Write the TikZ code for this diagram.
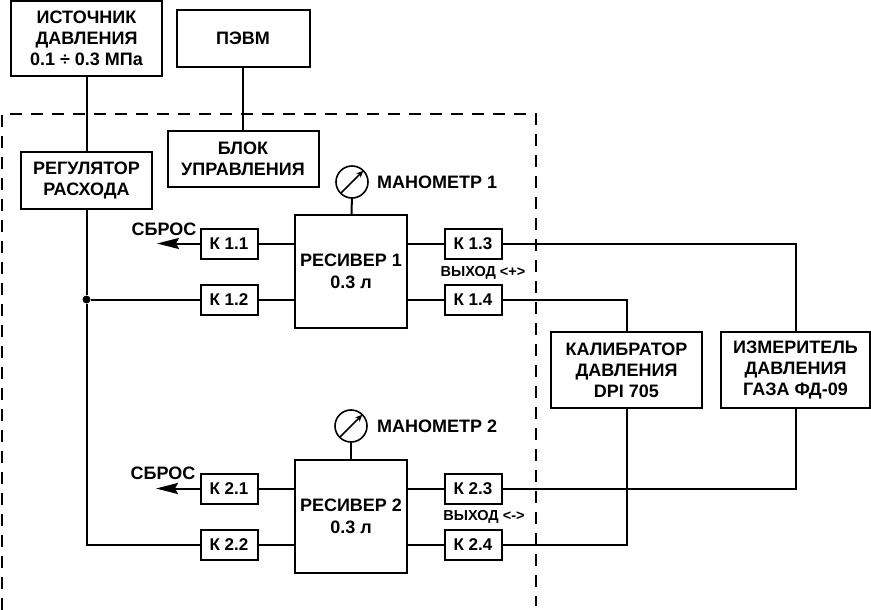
\documentclass[tikz,border=0pt]{standalone}
\usepackage{fontspec}
\setmainfont{Liberation Sans}
\usetikzlibrary{arrows.meta,positioning}
\tikzset{
    %Define standard arrow tip
    >={Stealth[length=7pt,width=6pt]},
    %Define style for boxes
    blok/.style={
           rectangle,
           draw=black,
           line width=2pt,
           inner sep=0pt,
           outer sep=0pt,
           align=center,
           font=\fontsize{18}{21}\selectfont\bfseries},
    klapan/.style={
           blok,
           font=\fontsize{17}{21}\selectfont\bfseries,
           minimum width=57pt,
           minimum height=30pt},
    % Define style for gauges
    manometr/.style={
           circle,
           draw=black,
           line width=1.6pt,
           minimum size=32pt,
           inner sep=0pt,
           outer sep=0pt},
    % Define style for free labels
    metka/.style={
           inner sep=0pt,
           font=\fontsize{18}{21}\selectfont\bfseries},
    melkaya/.style={
           inner sep=0pt,
           font=\fontsize{14.5}{17}\selectfont\bfseries},
    % Define line styles
    pil/.style={line width=2pt},
    sbros/.style={line width=2pt,-{Stealth[length=22pt,width=11pt,inset=3pt]}},
    granica/.style={line width=1.7pt,dash pattern=on 12pt off 9pt}
}
\begin{document}
\begin{tikzpicture}[x=1pt,y=-1pt,node distance=37.5pt]
  \useasboundingbox (0,0) rectangle (871,610);
  % outer boundary
  \draw[granica] (2,610) -- (2,114) -- (536,114) -- (536,606);
  % top boxes
  \node[blok,minimum width=151pt,minimum height=75pt] (istochnik) at (86.5,38.5) {ИСТОЧНИК\\ДАВЛЕНИЯ\\0.1 ÷ 0.3 МПа};
  \node[blok,minimum width=133pt,minimum height=57pt] (pevm) at (243,38.5) {ПЭВМ};
  \node[blok,minimum width=151pt,minimum height=56pt] (blok) at (243,159) {БЛОК\\УПРАВЛЕНИЯ};
  \node[blok,minimum width=131pt,minimum height=57pt] (regulator) at (86.5,180.5) {РЕГУЛЯТОР\\РАСХОДА};
  % receivers with valves
  \node[blok,minimum width=112pt,minimum height=113pt] (res1) at (351,271.5) {РЕСИВЕР 1\\[1pt]0.3 л};
  \node[klapan,left=of res1.west,yshift=28pt] (k11) {К 1.1};
  \node[klapan,left=of res1.west,yshift=-28pt] (k12) {К 1.2};
  \node[klapan,right=of res1.east,yshift=28pt] (k13) {К 1.3};
  \node[klapan,right=of res1.east,yshift=-28pt] (k14) {К 1.4};
  \node[blok,minimum width=112pt,minimum height=113pt] (res2) at (351,516.5) {РЕСИВЕР 2\\[1pt]0.3 л};
  \node[klapan,left=of res2.west,yshift=28pt] (k21) {К 2.1};
  \node[klapan,left=of res2.west,yshift=-28pt] (k22) {К 2.2};
  \node[klapan,right=of res2.east,yshift=28pt] (k23) {К 2.3};
  \node[klapan,right=of res2.east,yshift=-28pt] (k24) {К 2.4};
  % gauges
  \node[manometr] (man1) at (352,182) {};
  \node[manometr] (man2) at (351,426) {};
  \node[metka,right=9pt of man1] {МАНОМЕТР 1};
  \node[metka,right=10pt of man2] {МАНОМЕТР 2};
  % right boxes
  \node[blok,minimum width=151pt,minimum height=76pt] (kalibrator) at (626.5,370) {КАЛИБРАТОР\\ДАВЛЕНИЯ\\DPI 705};
  \node[blok,minimum width=149pt,minimum height=76pt] (izmeritel) at (795.5,370) {ИЗМЕРИТЕЛЬ\\ДАВЛЕНИЯ\\ГАЗА ФД-09};
  % labels
  \node[melkaya] at (483,273) {ВЫХОД <+>};
  \node[melkaya] at (484,517) {ВЫХОД <->};
  \node[metka] at (164,229) {СБРОС};
  \node[metka] at (163,473) {СБРОС};
  % free ends and corners
  \coordinate (vent1) at (157,243.5);
  \coordinate (vent2) at (156,488.5);
  \node[circle,fill=black,minimum size=8pt,inner sep=0pt] (uzel) at (86.5,299.5) {};
  \coordinate (ugol) at (86.5,544.5);
  % connectors
  \draw[pil] (istochnik) -- (regulator);
  \draw[pil] (regulator) -- (uzel) -- (ugol) -- (k22);
  \draw[pil] (pevm) -- (blok);
  \draw[pil] (uzel) -- (k12);
  \draw[sbros] (k11) -- (vent1);
  \draw[sbros] (k21) -- (vent2);
  \foreach \k/\y in {k11/28,k12/-28} \draw[pil] (\k) -- ([yshift=\y pt]res1.west);
  \foreach \k/\y in {k13/28,k14/-28} \draw[pil] (\k) -- ([yshift=\y pt]res1.east);
  \foreach \k/\y in {k21/28,k22/-28} \draw[pil] (\k) -- ([yshift=\y pt]res2.west);
  \foreach \k/\y in {k23/28,k24/-28} \draw[pil] (\k) -- ([yshift=\y pt]res2.east);
  \draw[pil] (man1) -- (res1);
  \draw[pil] (man2) -- (res2);
  \draw[->,line width=1.6pt] (man1.south west) -- (man1.north east);
  \draw[->,line width=1.6pt] (man2.south west) -- (man2.north east);
  \draw[pil] (k13) -| (izmeritel);
  \draw[pil] (k14) -| (kalibrator);
  \draw[pil] (k23) -| (izmeritel);
  \draw[pil] (k24) -| (kalibrator);
\end{tikzpicture}
\end{document}
